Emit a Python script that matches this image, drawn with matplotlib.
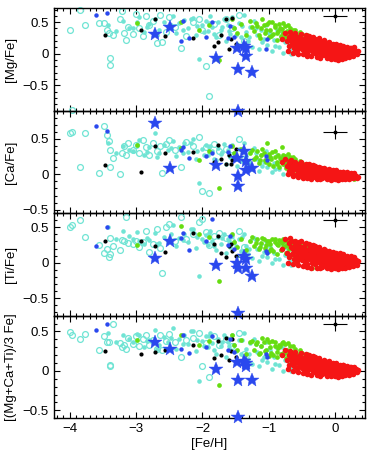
import matplotlib.pyplot as plt
from matplotlib.ticker import MultipleLocator

plt.rcParams['font.family'] = 'Liberation Sans'
plt.rcParams['font.size'] = 9.5

# ---------------- data ----------------
ylabels = ['[Mg/Fe]', '[Ca/Fe]', '[Ti/Fe]', '[(Mg+Ca+Ti)/3 Fe]']
ylims = [(-0.9, 0.72), (-0.55, 0.9), (-0.75, 0.7), (-0.6, 0.7)]
ytick_vals = [-0.5, 0, 0.5]
ytick_text = ['\u22120.5', '0', '0.5']
xtick_vals = [-4, -3, -2, -1, 0]
xtick_text = ['\u22124', '\u22123', '\u22122', '\u22121', '0']

# red (thin disc)
red_feh = [-0.72, -0.70, -0.69, -0.67, -0.66, -0.65, -0.63, -0.62, -0.61, -0.60,
           -0.59, -0.58, -0.57, -0.56, -0.55, -0.54, -0.53, -0.52, -0.51, -0.50,
           -0.49, -0.48, -0.47, -0.46, -0.45, -0.45, -0.44, -0.43, -0.42, -0.41,
           -0.40, -0.39, -0.38, -0.38, -0.37, -0.36, -0.35, -0.34, -0.33, -0.33,
           -0.32, -0.31, -0.30, -0.30, -0.29, -0.28, -0.27, -0.26, -0.26, -0.25,
           -0.24, -0.23, -0.22, -0.22, -0.21, -0.20, -0.19, -0.18, -0.18, -0.17,
           -0.16, -0.15, -0.14, -0.14, -0.13, -0.12, -0.11, -0.10, -0.10, -0.09,
           -0.08, -0.07, -0.06, -0.06, -0.05, -0.04, -0.03, -0.02, -0.02, -0.01,
           0.00, 0.01, 0.02, 0.02, 0.03, 0.04, 0.05, 0.06, 0.06, 0.07,
           0.08, 0.09, 0.10, 0.11, 0.12, 0.13, 0.14, 0.15, 0.17, 0.18,
           0.19, 0.20, 0.22, 0.23, 0.25, 0.26, 0.28, 0.30, 0.32, 0.35,
           -0.80, -0.75, -0.71, -0.68, -0.64, -0.60, -0.56, -0.52, -0.48, -0.44,
           -0.42, -0.39, -0.36, -0.34, -0.31, -0.28, -0.25, -0.23, -0.20, -0.17,
           -0.15, -0.12, -0.09, -0.07, -0.04, -0.01, 0.01, 0.04, 0.07, 0.10,
           0.12, 0.15, 0.18, 0.21, 0.24, 0.27, 0.29, 0.33, -0.58, -0.46]
red_mg = [0.20, 0.27, 0.12, 0.22, 0.30, 0.16, 0.25, 0.09, 0.19, 0.28,
          0.14, 0.23, 0.06, 0.18, 0.26, 0.11, 0.20, 0.15, 0.24, 0.08,
          0.19, 0.13, 0.22, 0.05, 0.16, 0.25, 0.10, 0.18, 0.02, 0.14,
          0.21, 0.08, 0.15, 0.24, 0.11, 0.18, 0.04, 0.13, 0.20, 0.09,
          0.16, 0.01, 0.12, 0.22, 0.07, 0.17, 0.10, 0.03, 0.19, 0.13,
          0.06, 0.14, 0.00, 0.20, 0.10, 0.15, 0.04, 0.11, 0.17, 0.07,
          0.12, -0.02, 0.08, 0.16, 0.03, 0.10, 0.13, -0.04, 0.07, 0.11,
          0.02, 0.09, -0.06, 0.14, 0.05, 0.00, 0.11, -0.03, 0.07, 0.03,
          0.08, -0.05, 0.04, 0.12, -0.01, 0.06, 0.10, 0.01, -0.07, 0.05,
          0.09, 0.02, -0.03, 0.07, 0.11, 0.00, 0.05, 0.08, 0.03, -0.02,
          0.06, 0.01, 0.09, 0.03, 0.05, -0.01, 0.07, 0.02, 0.05, 0.04,
          0.24, 0.33, 0.04, 0.35, 0.02, 0.33, 0.00, 0.31, -0.01, 0.29,
          -0.03, 0.28, -0.04, 0.27, 0.24, -0.05, 0.25, -0.06, -0.02, 0.22,
          0.19, -0.07, 0.18, -0.09, 0.16, -0.08, 0.15, -0.10, 0.14, -0.08,
          0.13, -0.06, 0.10, -0.05, 0.09, -0.03, 0.10, 0.00, 0.21, 0.17]
red_ca = [0.12, 0.16, 0.05, 0.09, 0.20, 0.02, 0.13, 0.07, 0.10, 0.15,
          0.08, 0.12, 0.00, 0.06, 0.14, 0.03, 0.10, 0.05, 0.11, -0.01,
          0.09, 0.04, 0.12, -0.02, 0.07, 0.13, 0.02, 0.08, -0.03, 0.06,
          0.10, 0.01, 0.06, 0.11, 0.03, 0.08, -0.03, 0.05, 0.09, 0.00,
          0.07, -0.04, 0.04, 0.10, 0.01, 0.06, 0.03, -0.02, 0.08, 0.05,
          0.02, 0.06, -0.03, 0.09, 0.03, 0.05, -0.01, 0.04, 0.07, 0.01,
          0.04, -0.04, 0.01, 0.06, -0.02, 0.03, 0.05, -0.05, 0.01, 0.03,
          -0.01, 0.02, -0.05, 0.05, 0.00, -0.03, 0.04, -0.04, 0.02, -0.01,
          0.02, -0.04, 0.00, 0.04, -0.03, 0.01, 0.03, -0.02, -0.06, 0.00,
          0.01, -0.01, -0.04, 0.02, 0.03, -0.03, 0.00, 0.01, -0.02, -0.05,
          -0.01, -0.03, 0.01, -0.02, 0.00, -0.04, -0.01, -0.03, -0.02, -0.04,
          0.18, 0.22, 0.00, 0.19, -0.02, 0.18, -0.04, 0.17, -0.05, 0.15,
          -0.05, 0.14, -0.06, 0.13, 0.12, -0.06, 0.11, -0.07, -0.05, 0.09,
          0.08, -0.07, 0.07, -0.08, 0.06, -0.07, 0.06, -0.08, 0.04, -0.07,
          0.04, -0.06, 0.03, -0.06, 0.02, -0.05, 0.02, -0.05, 0.09, 0.07]
red_ti = [0.14, 0.28, 0.08, 0.22, 0.31, 0.12, 0.20, 0.05, 0.26, 0.17,
          0.10, 0.24, 0.02, 0.15, 0.29, 0.07, 0.19, 0.12, 0.22, 0.04,
          0.16, 0.09, 0.21, 0.01, 0.13, 0.26, 0.06, 0.18, -0.02, 0.11,
          0.19, 0.05, 0.12, 0.23, 0.08, 0.16, 0.00, 0.10, 0.18, 0.04,
          0.14, -0.02, 0.09, 0.20, 0.05, 0.15, 0.07, 0.01, 0.17, 0.11,
          0.04, 0.12, -0.03, 0.18, 0.08, 0.13, 0.02, 0.09, 0.15, 0.05,
          0.10, -0.04, 0.06, 0.14, 0.01, 0.08, 0.12, -0.05, 0.04, 0.09,
          0.00, 0.07, -0.06, 0.12, 0.03, -0.02, 0.10, -0.04, 0.05, 0.01,
          0.06, -0.05, 0.02, 0.10, -0.02, 0.04, 0.09, 0.00, -0.06, 0.03,
          0.07, 0.01, -0.03, 0.05, 0.09, -0.01, 0.04, 0.06, 0.02, -0.02,
          0.04, 0.00, 0.07, 0.02, 0.05, -0.01, 0.06, 0.03, 0.04, 0.03,
          0.20, 0.33, 0.00, 0.35, -0.02, 0.31, -0.04, 0.30, -0.05, 0.28,
          -0.06, 0.26, -0.07, 0.25, 0.23, -0.07, 0.22, -0.08, -0.06, 0.20,
          0.18, -0.08, 0.17, -0.09, 0.15, -0.08, 0.14, -0.09, 0.13, -0.08,
          0.12, -0.07, 0.10, -0.06, 0.09, -0.05, 0.08, -0.03, 0.19, 0.15]
red_al = [0.14, 0.20, 0.08, 0.15, 0.22, 0.10, 0.18, 0.06, 0.13, 0.19,
          0.11, 0.17, 0.03, 0.12, 0.19, 0.06, 0.15, 0.10, 0.16, 0.04,
          0.13, 0.08, 0.15, 0.02, 0.11, 0.18, 0.05, 0.12, 0.00, 0.09,
          0.14, 0.04, 0.10, 0.16, 0.07, 0.12, 0.01, 0.08, 0.13, 0.05,
          0.10, -0.01, 0.07, 0.14, 0.04, 0.11, 0.06, 0.01, 0.12, 0.08,
          0.03, 0.09, -0.02, 0.13, 0.06, 0.09, 0.02, 0.07, 0.11, 0.04,
          0.07, -0.03, 0.04, 0.10, 0.00, 0.06, 0.08, -0.04, 0.03, 0.07,
          0.00, 0.05, -0.05, 0.09, 0.02, -0.02, 0.07, -0.03, 0.04, 0.01,
          0.04, -0.04, 0.01, 0.07, -0.02, 0.03, 0.06, 0.00, -0.05, 0.02,
          0.05, 0.01, -0.03, 0.04, 0.07, -0.01, 0.03, 0.05, 0.01, -0.02,
          0.03, 0.00, 0.05, 0.01, 0.03, -0.01, 0.04, 0.01, 0.02, 0.01,
          0.20, 0.26, 0.02, 0.25, 0.00, 0.24, -0.02, 0.23, -0.03, 0.21,
          -0.04, 0.20, -0.05, 0.19, 0.17, -0.05, 0.16, -0.06, -0.04, 0.14,
          0.13, -0.06, 0.12, -0.07, 0.10, -0.07, 0.10, -0.08, 0.08, -0.06,
          0.08, -0.05, 0.06, -0.05, 0.05, -0.04, 0.05, -0.02, 0.15, 0.12]

# green (thick disc)
green_feh = [-2.99, -2.33, -2.05, -1.90, -1.75, -1.55, -1.52, -1.48, -1.42, -1.35,
             -1.28, -1.22, -1.18, -1.15, -1.12, -1.10, -1.06, -1.03, -1.00, -0.98,
             -0.95, -0.93, -0.90, -0.88, -0.86, -0.84, -0.82, -0.80, -0.78, -0.76,
             -0.74, -0.72, -0.70, -0.68, -0.66, -0.64, -0.62, -0.60, -0.57, -0.55,
             -0.52, -0.50, -0.47, -0.44, -0.40, -0.35, -0.30, -0.20, -0.10, 0.05,
             0.15, 0.22,
             -1.26, -1.20, -1.14, -1.08, -1.04, -0.99, -0.96, -0.91, -0.87, -0.83,
             -0.79, -0.75, -0.71, -0.67, -0.63, -0.58, -0.53, -0.48, -0.42, -0.37,
             -0.25, -0.15, 0.10, 0.28]
green_mg = [0.49, 0.50, 0.38, 0.46, -0.10, 0.55, 0.41, 0.33, 0.47, 0.29,
            0.52, 0.36, 0.44, 0.30, 0.40, 0.55, 0.33, 0.47, 0.26, 0.38,
            0.50, 0.31, 0.42, 0.22, 0.36, 0.47, 0.28, 0.39, 0.33, 0.44,
            0.25, 0.36, 0.30, 0.41, 0.21, 0.33, 0.27, 0.37, 0.18, 0.30,
            0.24, 0.31, 0.16, 0.27, 0.20, 0.12, 0.22, 0.05, 0.14, 0.10,
            -0.02, 0.02,
            0.42, 0.48, 0.25, 0.45, 0.38, 0.50, 0.28, 0.45, 0.33, 0.40,
            0.49, 0.27, 0.45, 0.31, 0.38, 0.26, 0.34, 0.22, 0.30, 0.18,
            0.10, 0.00, 0.06, 0.03]
green_ca = [0.42, 0.37, 0.20, 0.33, -0.19, 0.40, 0.30, 0.25, 0.36, 0.18,
            0.30, 0.22, 0.33, 0.16, 0.27, 0.36, 0.20, 0.45, 0.14, 0.25,
            0.31, 0.12, 0.24, 0.18, 0.28, 0.10, 0.22, 0.39, 0.15, 0.26,
            0.09, 0.20, 0.13, 0.24, 0.07, 0.17, 0.11, 0.21, 0.05, 0.14,
            0.09, 0.16, 0.04, 0.12, 0.08, 0.02, 0.10, 0.00, 0.05, -0.03,
            -0.05, -0.02,
            0.35, 0.25, 0.20, 0.30, 0.17, 0.29, 0.22, 0.33, 0.14, 0.23,
            0.27, 0.18, 0.29, 0.15, 0.25, 0.12, 0.19, 0.10, 0.15, 0.06,
            0.03, -0.02, -0.04, -0.06]
green_ti = [0.25, 0.52, 0.41, 0.36, -0.26, 0.40, 0.29, 0.22, 0.33, 0.18,
            0.30, 0.24, 0.34, 0.19, 0.28, 0.35, 0.21, 0.31, 0.16, 0.27,
            0.33, 0.17, 0.29, 0.12, 0.25, 0.32, 0.18, 0.28, 0.22, 0.31,
            0.14, 0.25, 0.20, 0.29, 0.11, 0.23, 0.16, 0.26, 0.09, 0.19,
            0.13, 0.21, 0.06, 0.17, 0.10, -0.08, 0.12, 0.02, 0.08, 0.04,
            -0.03, 0.05,
            0.36, 0.28, 0.22, 0.33, 0.25, 0.30, 0.20, 0.34, 0.26, 0.30,
            0.34, 0.24, 0.31, 0.27, 0.30, 0.20, 0.27, 0.17, 0.22, 0.13,
            0.05, -0.02, 0.00, 0.03]
green_al = [0.39, 0.45, 0.33, 0.38, -0.18, 0.45, 0.33, 0.27, 0.39, 0.22,
            0.37, 0.27, 0.37, 0.22, 0.31, 0.42, 0.25, 0.41, 0.19, 0.30,
            0.38, 0.20, 0.32, 0.17, 0.29, 0.33, 0.22, 0.35, 0.23, 0.34,
            0.16, 0.27, 0.21, 0.31, 0.13, 0.24, 0.18, 0.28, 0.11, 0.21,
            0.15, 0.23, 0.09, 0.19, 0.13, 0.02, 0.15, 0.02, 0.09, 0.04,
            -0.03, 0.02,
            0.38, 0.34, 0.23, 0.36, 0.27, 0.36, 0.23, 0.37, 0.24, 0.31,
            0.37, 0.23, 0.35, 0.24, 0.31, 0.19, 0.27, 0.16, 0.22, 0.12,
            0.06, -0.01, 0.01, 0.00]

# cyan filled (halo)
cyan_feh = [-3.42, -3.20, -3.05, -2.95, -2.88, -2.80, -2.72, -2.65, -2.58, -2.52,
            -2.45, -2.40, -2.35, -2.28, -2.22, -2.15, -2.10, -2.05, -2.00, -1.95,
            -1.92, -1.88, -1.85, -1.80, -1.76, -1.72, -1.68, -1.65, -1.62, -1.58,
            -1.55, -1.52, -1.48, -1.45, -1.42, -1.38, -1.35, -1.32, -1.28, -1.25,
            -1.22, -1.18, -1.15, -1.12, -1.08, -1.05, -1.02, -0.98, -0.95, -0.92,
            -0.88, -0.85, -0.82, -0.78, -0.75, -0.72, -0.68, -0.64,
            -3.30, -3.10, -2.98, -2.83, -2.68, -2.48, -2.30, -2.18, -2.08, -1.98,
            -1.90, -1.82, -1.70, -1.60, -1.50, -1.40, -1.30, -1.20, -1.10, -1.00,
            -0.90, -0.80, -0.70, -0.66]
cyan_mg = [0.45, 0.52, 0.40, 0.58, 0.35, 0.47, 0.55, 0.38, 0.50, 0.44,
           0.60, 0.33, 0.48, 0.53, 0.41, 0.57, 0.30, -0.08, 0.46, 0.52,
           0.36, 0.60, 0.43, 0.27, 0.50, 0.38, 0.55, 0.21, 0.45, 0.32,
           0.58, 0.40, 0.15, 0.48, 0.26, 0.62, 0.35, 0.20, 0.42, 0.11,
           0.52, 0.30, 0.08, 0.38, 0.24, 0.45, 0.14, 0.32, 0.05, 0.22,
           0.38, 0.10, 0.27, 0.02, 0.18, 0.30, 0.08, 0.24,
           0.36, 0.41, 0.50, 0.42, 0.30, 0.46, 0.38, 0.55, 0.44, 0.35,
           0.49, 0.31, 0.42, 0.36, 0.30, 0.44, 0.26, 0.40, 0.18, 0.33,
           0.12, 0.35, 0.15, 0.00]
cyan_ca = [0.45, 0.40, 0.33, 0.48, 0.28, 0.38, 0.59, 0.30, 0.42, 0.35,
           0.47, 0.26, 0.39, 0.44, 0.31, 0.50, 0.22, -0.12, 0.36, 0.42,
           0.27, 0.40, 0.33, 0.20, 0.37, 0.29, 0.43, 0.15, 0.34, 0.24,
           0.41, 0.30, 0.12, 0.36, 0.19, 0.44, 0.26, 0.14, 0.31, 0.08,
           0.37, 0.21, 0.05, 0.28, 0.17, 0.33, 0.10, 0.24, 0.03, 0.16,
           0.27, 0.07, 0.20, 0.00, 0.13, 0.22, 0.05, 0.18,
           0.30, 0.35, 0.42, 0.31, 0.25, 0.37, 0.30, 0.45, 0.33, 0.28,
           0.38, 0.22, 0.32, 0.28, 0.21, 0.34, 0.18, 0.30, 0.12, 0.25,
           0.08, 0.25, 0.10, 0.02]
cyan_ti = [0.50, 0.45, 0.34, 0.30, 0.26, 0.32, 0.42, 0.28, 0.37, 0.31,
           0.54, 0.24, 0.35, 0.40, 0.29, 0.47, 0.21, -0.19, 0.33, 0.39,
           0.25, 0.45, 0.30, 0.18, 0.36, 0.27, 0.41, 0.14, 0.33, 0.22,
           0.38, 0.29, 0.10, 0.34, 0.17, 0.40, 0.24, 0.12, 0.30, 0.06,
           0.35, 0.20, 0.03, 0.27, 0.15, 0.31, 0.08, 0.22, -0.01, 0.14,
           0.26, 0.05, 0.18, -0.04, 0.11, 0.21, 0.02, 0.16,
           0.33, 0.38, 0.44, 0.35, 0.27, 0.40, 0.32, 0.48, 0.37, 0.29,
           0.42, 0.24, 0.35, 0.30, 0.23, 0.37, 0.20, 0.32, 0.10, 0.26,
           0.05, 0.28, 0.08, -0.03]
cyan_al = [0.48, 0.46, 0.36, 0.45, 0.30, 0.39, 0.52, 0.33, 0.43, 0.37,
           0.54, 0.28, 0.41, 0.46, 0.34, 0.51, 0.25, -0.13, 0.38, 0.44,
           0.30, 0.48, 0.35, 0.22, 0.41, 0.31, 0.46, 0.17, 0.37, 0.26,
           0.45, 0.33, 0.13, 0.39, 0.21, 0.48, 0.28, 0.15, 0.35, 0.09,
           0.41, 0.24, 0.06, 0.31, 0.18, 0.36, 0.11, 0.26, 0.02, 0.17,
           0.29, 0.07, 0.21, 0.00, 0.14, 0.24, 0.04, 0.18,
           0.36, 0.40, 0.47, 0.38, 0.28, 0.42, 0.34, 0.50, 0.39, 0.31,
           0.44, 0.26, 0.37, 0.32, 0.25, 0.39, 0.22, 0.34, 0.14, 0.28,
           0.09, 0.30, 0.11, 0.00]

# cyan open circles (metal-poor halo)
open_feh = [-4.00, -3.97, -3.84, -3.77, -3.56, -3.48, -3.44, -3.41, -3.40, -3.39,
            -3.35, -3.25, -3.21, -3.18, -3.15, -3.12, -3.05, -3.00, -2.95, -2.90,
            -2.85, -2.80, -2.75, -2.69, -2.64, -2.61, -2.55, -2.50, -2.42, -2.33,
            -2.25, -2.15, -2.05, -2.00, -1.95, -1.90, -1.82, -1.75, -1.65, -1.55,
            -1.45, -1.38]
open_mg = [0.38, -0.89, 0.70, 0.46, 0.49, 0.49, 0.38, 0.33, -0.06, -0.17,
           0.29, 0.55, 0.67, 0.33, 0.22, 0.43, 0.32, 0.63, 0.40, 0.28,
           0.60, 0.45, 0.52, 0.17, 0.62, 0.18, 0.35, 0.58, 0.42, 0.09,
           0.28, 0.50, 0.55, 0.38, -0.19, -0.66, 0.47, 0.30, 0.55, 0.40,
           0.62, 0.20]
open_ca = [0.58, 0.60, 0.10, 0.58, 0.02, 0.68, 0.56, 0.47, 0.10, 0.35,
           0.23, 0.00, 0.30, 0.40, 0.27, 0.45, 0.35, 0.42, 0.30, 0.48,
           0.38, 0.28, 0.45, 0.33, 0.40, 0.02, 0.43, 0.48, 0.35, 0.11,
           0.46, 0.40, 0.53, -0.23, 0.38, -0.26, 0.43, 0.33, 0.36, 0.28,
           0.50, 0.22]
open_ti = [0.51, 0.53, 0.60, 0.36, 0.25, 0.14, 0.19, 0.08, 0.35, 0.12,
           0.24, 0.18, 0.32, 0.30, 0.65, 0.28, 0.26, 0.31, 0.22, 0.29,
           0.45, 0.15, 0.27, 0.48, 0.21, -0.15, 0.50, 0.55, 0.30, 0.65,
           0.33, 0.40, 0.57, 0.62, 0.44, 0.25, 0.38, 0.42, 0.35, 0.30,
           0.45, 0.22]
open_al = [0.49, 0.45, 0.40, 0.47, 0.26, 0.44, 0.37, 0.37, 0.08, 0.06,
           0.59, 0.35, 0.30, 0.33, 0.28, 0.42, 0.34, 0.44, 0.31, 0.40,
           0.46, 0.33, 0.39, 0.28, 0.45, 0.26, 0.38, 0.47, 0.36, 0.17,
           0.39, 0.42, 0.48, 0.06, 0.35, -0.08, 0.44, 0.33, 0.40, 0.31,
           0.48, 0.22]

# small blue dots
blue_feh = [-3.60, -3.44, -2.33, -2.30, -2.20, -1.95, -1.86, -1.62, -1.58, -1.52, -1.05, -1.03]
blue_mg = [0.62, 0.64, 0.21, 0.52, 0.25, 0.27, 0.50, 0.25, 0.44, 0.27, 0.08, 0.24]
blue_ca = [0.68, 0.62, 0.35, 0.38, 0.23, 0.26, 0.30, 0.32, 0.40, 0.24, 0.26, 0.20]
blue_ti = [0.24, 0.50, 0.35, 0.42, 0.18, 0.30, 0.62, 0.25, 0.38, 0.20, 0.17, 0.14]
blue_al = [0.52, 0.59, 0.28, 0.45, 0.23, 0.30, 0.44, 0.27, 0.40, 0.24, 0.21, 0.17]

# black dots
black_feh = [-3.47, -2.92, -2.72, -2.56, -2.14, -1.83, -1.76, -1.72, -1.65, -1.60, -1.57, -1.55, -1.50]
black_mg = [0.30, 0.38, 0.55, 0.28, 0.25, 0.12, 0.19, 0.30, 0.55, 0.08, 0.23, 0.57, 0.15]
black_ca = [0.13, 0.03, 0.40, 0.30, 0.31, 0.17, 0.42, 0.21, 0.15, 0.27, 0.15, 0.20, 0.36]
black_ti = [0.31, 0.30, 0.23, 0.15, 0.42, 0.26, 0.38, 0.13, 0.08, 0.24, 0.27, 0.17, 0.10]
black_al = [0.25, 0.22, 0.24, 0.26, 0.33, 0.16, 0.38, 0.20, 0.42, 0.14, 0.25, 0.40, 0.18]

# blue stars (programme stars)
star_feh = [-2.72, -2.49, -1.79, -1.48, -1.47, -1.46, -1.37, -1.35, -1.34, -1.26]
star_mg = [0.32, 0.42, -0.06, 0.09, -0.24, -0.90, 0.13, -0.03, 0.09, -0.28]
star_ca = [0.72, 0.09, 0.13, 0.23, -0.02, -0.16, 0.33, 0.19, 0.06, 0.09]
star_ti = [0.07, 0.31, -0.03, 0.00, -0.08, -0.71, 0.09, -0.08, 0.05, -0.19]
star_al = [0.37, 0.28, 0.02, 0.11, -0.11, -0.59, 0.13, 0.06, 0.10, -0.12]

# typical error bar
err_feh, err_y, err_dx, err_dy = 0.0, 0.6, 0.18, 0.1

open_y = [open_mg, open_ca, open_ti, open_al]
cyan_y = [cyan_mg, cyan_ca, cyan_ti, cyan_al]
green_y = [green_mg, green_ca, green_ti, green_al]
red_y = [red_mg, red_ca, red_ti, red_al]
blue_y = [blue_mg, blue_ca, blue_ti, blue_al]
black_y = [black_mg, black_ca, black_ti, black_al]
star_y = [star_mg, star_ca, star_ti, star_al]

c_cyan = '#70e4d4'
c_green = '#66dd11'
c_red = '#f51515'
c_blue = '#2a48ee'

fig, axes = plt.subplots(4, 1, sharex=True, figsize=(3.74, 4.58), dpi=100)
fig.subplots_adjust(left=0.144, right=0.976, top=0.982, bottom=0.087, hspace=0)

for k, ax in enumerate(axes):
    ax.patch.set_alpha(0)
    ax.plot(open_feh, open_y[k], 'o', ms=4.2, mfc='none', mec=c_cyan, mew=0.9, clip_on=False)
    ax.plot(cyan_feh, cyan_y[k], 'o', ms=3.3, mfc=c_cyan, mec=c_cyan, mew=0)
    ax.plot(green_feh, green_y[k], 'o', ms=3.4, mfc=c_green, mec=c_green, mew=0)
    ax.plot(red_feh, red_y[k], 'o', ms=4.0, mfc=c_red, mec=c_red, mew=0)
    ax.plot(black_feh, black_y[k], 'o', ms=3.0, mfc='k', mec='k', mew=0)
    ax.plot(blue_feh, blue_y[k], 'o', ms=3.2, mfc=c_blue, mec=c_blue, mew=0)
    ax.plot(star_feh, star_y[k], '*', ms=10, mfc=c_blue, mec=c_blue, mew=0.3, clip_on=False, zorder=5)
    ax.errorbar([err_feh], [err_y], xerr=err_dx, yerr=err_dy, fmt='o', ms=1.8,
                color='k', elinewidth=0.8, capsize=0)

    ax.set_xlim(-4.24, 0.45)
    ax.set_ylim(*ylims[k])
    ax.set_yticks(ytick_vals)
    ax.set_yticklabels(ytick_text)
    ax.xaxis.set_minor_locator(MultipleLocator(0.1))
    ax.yaxis.set_minor_locator(MultipleLocator(0.1))
    ax.tick_params(which='both', direction='in', top=True, right=True, width=0.8)
    ax.tick_params(which='major', length=4)
    ax.tick_params(which='minor', length=2)
    for s in ax.spines.values():
        s.set_linewidth(1.0)
    ax.set_ylabel(ylabels[k])
    ax.yaxis.set_label_coords(-0.12, 0.5)

axes[-1].set_xticks(xtick_vals)
axes[-1].set_xticklabels(xtick_text)
axes[-1].set_xlabel('[Fe/H]', labelpad=2)

fig.savefig('out.png', dpi=100)
